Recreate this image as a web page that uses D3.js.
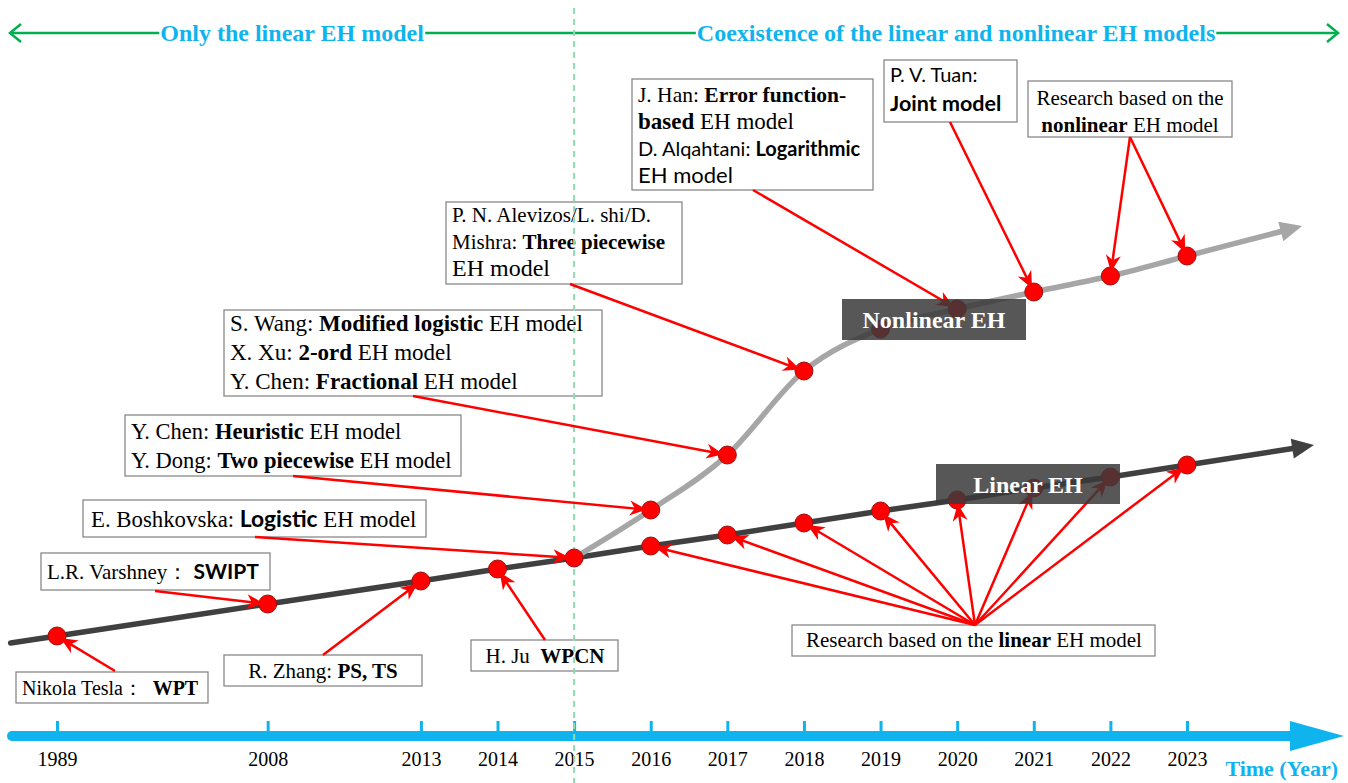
<!DOCTYPE html>
<html>
<head>
<meta charset="utf-8">
<script src="https://cdn.jsdelivr.net/npm/d3@7"></script>
<style>
    body { margin: 0; background: #fff; }
    svg { display: block; font-family: "Liberation Serif", "Times New Roman", serif; }
</style>
</head>
<body>
<div id="chart"></div>
<script>
// ---- data ----
const years = [1989, 2008, 2013, 2014, 2015, 2016, 2017, 2018, 2019, 2020, 2021, 2022, 2023];
// where each year sits on the time axis, in yearly steps (axis is squeezed before 2013)
const yearSlots = [0, 2.75, 4.75, 5.75, 6.75, 7.75, 8.75, 9.75, 10.75, 11.75, 12.75, 13.75, 14.75];
const linearLevel = [99, 131, 154, 166, 177, 189, 200, 212, 224, 235, 247, 258, 270];
const nonlinearYears = [2015, 2016, 2017, 2018, 2019, 2020, 2021, 2022, 2023];
const nonlinearLevel = [177, 225, 280, 364, 406, 426, 443, 459, 479];
const splitYear = 2015;
const eraLabels = ['Only the linear EH model', 'Coexistence of the linear and nonlinear EH models'];
const trackLabels = ['Nonlinear EH', 'Linear EH'];
const axisTitle = 'Time (Year)';

// annotation texts: segments are [text, style]; style '' serif, 'b' serif bold, 's' sans, 'sb' sans bold
const notes = [
    { series: 'L', years: [1989], lines: [[['Nikola Tesla：', ''], ['  WPT', 'b']]] },
    { series: 'L', years: [2008], lines: [[['L.R. Varshney：', ''], [' SWIPT', 'sb']]] },
    { series: 'L', years: [2013], lines: [[['R. Zhang: ', ''], ['PS, TS', 'b']]] },
    { series: 'L', years: [2014], lines: [[['H. Ju  ', ''], ['WPCN', 'b']]] },
    { series: 'L', years: [2015], lines: [[['E. Boshkovska: ', ''], ['Logistic', 'sb'], [' EH model', '']]] },
    { series: 'N', years: [2016], lines: [
        [['Y. Chen: ', ''], ['Heuristic', 'b'], [' EH model', '']],
        [['Y. Dong: ', ''], ['Two piecewise', 'b'], [' EH model', '']]] },
    { series: 'N', years: [2017], lines: [
        [['S. Wang: ', ''], ['Modified logistic', 'b'], [' EH model', '']],
        [['X. Xu: ', ''], ['2-ord', 'b'], [' EH model', '']],
        [['Y. Chen: ', ''], ['Fractional', 'b'], [' EH model', '']]] },
    { series: 'N', years: [2018], lines: [
        [['P. N. Alevizos/L. shi/D.', '']],
        [['Mishra: ', ''], ['Three piecewise', 'b']],
        [['EH model', '']]] },
    { series: 'N', years: [2020], lines: [
        [['J. Han: ', ''], ['Error function-', 'b']],
        [['based', 'b'], [' EH model', '']],
        [['D. Alqahtani: ', 's'], ['Logarithmic', 'sb']],
        [['EH model', 's']]] },
    { series: 'N', years: [2021], lines: [[['P. V. Tuan:', 's']], [['Joint model', 'sb']]] },
    { series: 'N', years: [2022, 2023], lines: [[['Research based on the', '']], [['nonlinear', 'b'], [' EH model', '']]] },
    { series: 'L', years: [2016, 2017, 2018, 2019, 2020, 2021, 2022, 2023],
        lines: [[['Research based on the ', ''], ['linear', 'b'], [' EH model', '']]] }
];

// ---- layout of the annotation boxes (same order as notes) ----
const noteBoxes = [
    { box: [16, 672, 192, 31], tx: 22, ty: 695, lh: 0, fs: [20], from: [115, 671] },
    { box: [41, 553, 229, 37], tx: 47, ty: 579, lh: 0, fs: [21], from: [155, 591] },
    { box: [224, 655, 198, 31], tx: 323, ty: 678, lh: 0, fs: [21], mid: true, from: [323, 655] },
    { box: [471, 640, 147, 31], tx: 545, ty: 663, lh: 0, fs: [21], mid: true, from: [545, 640] },
    { box: [83, 500, 343, 37], tx: 91, ty: 527, lh: 0, fs: [22.8], from: [255, 537] },
    { box: [125, 415, 336, 61], tx: 131, ty: 439, lh: 29, fs: [22.5, 22.5], from: [293, 476] },
    { box: [224, 310, 378, 86], tx: 230, ty: 331, lh: 29, fs: [23, 23, 23], from: [413, 396] },
    { box: [446, 202, 236, 82], tx: 452, ty: 222, lh: 27, fs: [21, 21, 24], from: [570, 284] },
    { box: [632, 79, 241, 111], tx: 638, ty: 102, lh: 27, fs: [21.5, 23, 20, 22], from: [753, 190] },
    { box: [884, 60, 133, 62], tx: 890, ty: 82, lh: 29, fs: [20, 21.5], from: [950, 122] },
    { box: [1028, 81, 204, 56], tx: 1130, ty: 105, lh: 27, fs: [21, 21], mid: true, from: [1130, 137] },
    { box: [792, 625, 363, 31], tx: 974, ty: 647, lh: 0, fs: [21], mid: true, from: [975, 625] }
];

const W = 1348, H = 783;
const blue = '#0FB4EE', green = '#00B050', red = '#FF0000';
const sans = 'Lato, "Open Sans", "Liberation Sans", sans-serif';

const svg = d3.select('#chart').append('svg').attr('width', W).attr('height', H);

// scales
const slotX = d3.scaleLinear().domain([0, 14.75]).range([57, 1187]);
const x = d3.scaleLinear().domain(years).range(yearSlots.map(slotX));
const y = d3.scaleLinear().domain([0, 700]).range([735, 35]);

const linPts = years.map((yr, i) => ({ year: yr, x: x(yr), y: y(linearLevel[i]) }));
const nlPts = nonlinearYears.map((yr, i) => ({ year: yr, x: x(yr), y: y(nonlinearLevel[i]) }));

// point a step beyond b, continuing the direction a -> b
const extend = (a, b, k) => ({ x: b.x + (b.x - a.x) * k, y: b.y + (b.y - a.y) * k });

// markers
const defs = svg.append('defs');
function marker(id, path, fill, vb, w, h) {
    defs.append('marker').attr('id', id).attr('viewBox', vb)
        .attr('refX', 0).attr('refY', 0).attr('markerWidth', w).attr('markerHeight', h)
        .attr('markerUnits', 'userSpaceOnUse').attr('orient', 'auto')
        .append('path').attr('d', path).attr('fill', fill);
}
marker('arrRed', 'M0,0 L-17,-7.5 L-12,0 L-17,7.5Z', red, '-18 -9 19 18', 19, 18);
marker('arrDark', 'M-2,-10 L20,0 L-2,10Z', '#404040', '-3 -11 24 22', 24, 22);
marker('arrGray', 'M-2,-10 L20,0 L-2,10Z', '#A6A6A6', '-3 -11 24 22', 24, 22);

// ---- era arrow at the top ----
const eraY = 33, eraLeft = 10, eraRight = 1338;
const splitX = x(splitYear);
const eraCenters = [(eraLeft + splitX) / 2, (splitX + eraRight) / 2];
const eraText = svg.append('g').selectAll('text').data(eraLabels).join('text')
    .attr('x', (d, i) => eraCenters[i]).attr('y', eraY + 8)
    .attr('text-anchor', 'middle').attr('fill', blue)
    .style('font-weight', 'bold').style('font-size', '24px')
    .text(d => d);
const eb = eraText.nodes().map(n => n.getBBox());
const eraSegs = [[eraLeft, eb[0].x - 1], [eb[0].x + eb[0].width + 1, eb[1].x - 1], [eb[1].x + eb[1].width + 1, eraRight]];
svg.append('g').selectAll('line').data(eraSegs).join('line')
    .attr('x1', d => d[0]).attr('x2', d => d[1]).attr('y1', eraY).attr('y2', eraY)
    .attr('stroke', green).attr('stroke-width', 2.5);
svg.append('path').attr('d', `M${eraLeft + 11},${eraY - 9} L${eraLeft},${eraY} L${eraLeft + 11},${eraY + 9}`)
    .attr('fill', 'none').attr('stroke', green).attr('stroke-width', 2.5);
svg.append('path').attr('d', `M${eraRight - 11},${eraY - 9} L${eraRight},${eraY} L${eraRight - 11},${eraY + 9}`)
    .attr('fill', 'none').attr('stroke', green).attr('stroke-width', 2.5);

// ---- time axis ----
const axisY = 736;
svg.append('line').attr('x1', 12).attr('x2', 1295).attr('y1', axisY).attr('y2', axisY)
    .attr('stroke', blue).attr('stroke-width', 10).attr('stroke-linecap', 'round');
svg.append('path').attr('d', `M1290,${axisY - 15} L1344,${axisY} L1290,${axisY + 15}Z`).attr('fill', blue);
const axis = svg.append('g').attr('transform', `translate(0,${axisY})`)
    .call(d3.axisBottom(x).tickValues(years).tickFormat(d3.format('d')).tickSizeInner(-15).tickSizeOuter(0).tickPadding(16));
axis.select('.domain').remove();
axis.selectAll('.tick line').attr('stroke', blue).attr('stroke-width', 3);
axis.selectAll('.tick text').attr('fill', '#000').style('font-family', '"Liberation Serif", serif').style('font-size', '20px');
svg.append('text').attr('x', 1338).attr('y', 776).attr('text-anchor', 'end')
    .attr('fill', blue).style('font-weight', 'bold').style('font-size', '22px').text(axisTitle);

// ---- tracks ----
const line = d3.line().x(d => d.x).y(d => d.y);
const linPath = [extend(linPts[1], linPts[0], 0.22), ...linPts, extend(linPts[linPts.length - 2], linPts[linPts.length - 1], 1.4)];
svg.append('path').attr('d', line(linPath)).attr('fill', 'none')
    .attr('stroke', '#404040').attr('stroke-width', 5.5).attr('stroke-linecap', 'round')
    .attr('marker-end', 'url(#arrDark)');

const nlPath = [...nlPts, extend(nlPts[nlPts.length - 2], nlPts[nlPts.length - 1], 1.25)];
svg.append('path').attr('d', line.curve(d3.curveMonotoneX)(nlPath)).attr('fill', 'none')
    .attr('stroke', '#A6A6A6').attr('stroke-width', 5.5)
    .attr('marker-end', 'url(#arrGray)');

// ---- annotation boxes ----
const noteG = svg.append('g').selectAll('g').data(notes).join('g');
noteG.append('rect')
    .attr('x', (d, i) => noteBoxes[i].box[0]).attr('y', (d, i) => noteBoxes[i].box[1])
    .attr('width', (d, i) => noteBoxes[i].box[2]).attr('height', (d, i) => noteBoxes[i].box[3])
    .attr('fill', '#fff').attr('stroke', '#7F7F7F').attr('stroke-width', 1.2);
noteG.each(function (d, i) {
    const L = noteBoxes[i];
    d.lines.forEach((segs, j) => {
        const t = d3.select(this).append('text')
            .attr('x', L.tx).attr('y', L.ty + j * L.lh)
            .attr('text-anchor', L.mid ? 'middle' : 'start')
            .style('font-size', L.fs[j] + 'px').attr('fill', '#000')
            .attr('xml:space', 'preserve');
        segs.forEach(([txt, st]) => {
            t.append('tspan').text(txt)
                .style('font-weight', st.includes('b') ? 'bold' : 'normal')
                .style('font-family', st.startsWith('s') ? sans : null);
        });
    });
});

// dashed split line
svg.append('line').attr('x1', splitX).attr('x2', splitX).attr('y1', 8).attr('y2', H)
    .attr('stroke', '#8FDAB0').attr('stroke-width', 2).attr('stroke-dasharray', '6,5');

// points
const allPts = linPts.concat(nlPts.slice(1));
svg.append('g').selectAll('circle').data(allPts).join('circle')
    .attr('cx', d => d.x).attr('cy', d => d.y).attr('r', 9)
    .attr('fill', red).attr('stroke', '#9A1010').attr('stroke-width', 1);

// ---- annotation arrows ----
const arrows = [];
notes.forEach((n, i) => {
    const pts = n.series === 'L' ? linPts : nlPts;
    n.years.forEach(yr => {
        const p = pts.find(d => d.year === yr);
        const [fx, fy] = noteBoxes[i].from;
        const len = Math.hypot(p.x - fx, p.y - fy);
        const k = (len - 4) / len;
        arrows.push({ x1: fx, y1: fy, x2: fx + (p.x - fx) * k, y2: fy + (p.y - fy) * k });
    });
});
svg.append('g').selectAll('line').data(arrows).join('line')
    .attr('x1', d => d.x1).attr('y1', d => d.y1).attr('x2', d => d.x2).attr('y2', d => d.y2)
    .attr('stroke', red).attr('stroke-width', 2.5).attr('marker-end', 'url(#arrRed)');

// ---- track labels ----
const trackBoxes = [[842, 299, 184, 41], [936, 464, 184, 40]];
const tg = svg.append('g').selectAll('g').data(trackLabels).join('g');
tg.append('rect')
    .attr('x', (d, i) => trackBoxes[i][0]).attr('y', (d, i) => trackBoxes[i][1])
    .attr('width', (d, i) => trackBoxes[i][2]).attr('height', (d, i) => trackBoxes[i][3])
    .attr('fill', '#3A3A3A').attr('fill-opacity', 0.85);
tg.append('text')
    .attr('x', (d, i) => trackBoxes[i][0] + trackBoxes[i][2] / 2)
    .attr('y', (d, i) => trackBoxes[i][1] + 29)
    .attr('text-anchor', 'middle').attr('fill', '#fff')
    .style('font-weight', 'bold').style('font-size', '24px')
    .text(d => d);
</script>
</body>
</html>
